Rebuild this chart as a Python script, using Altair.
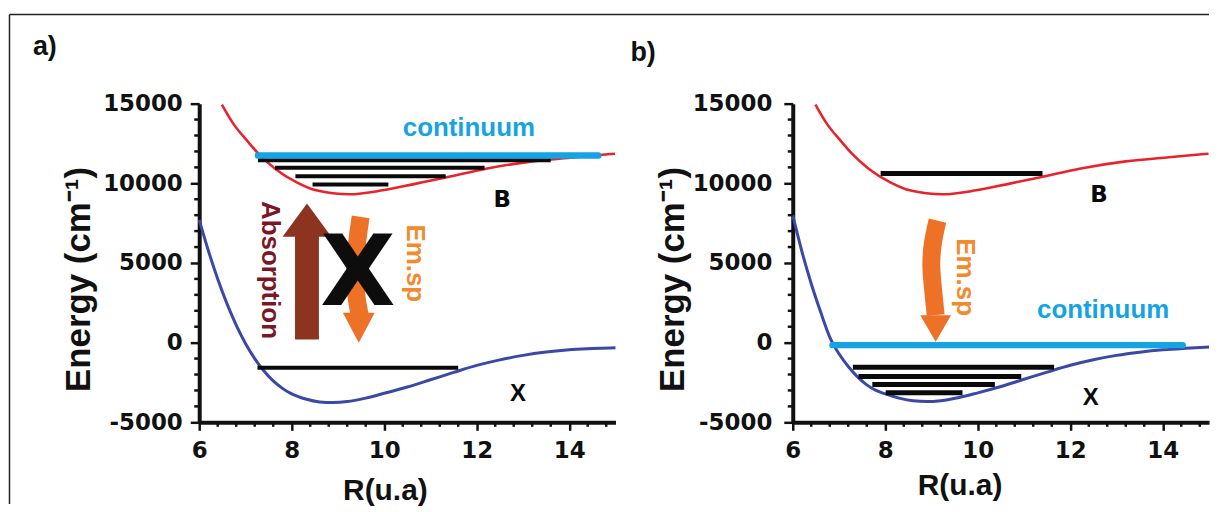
import altair as alt
import pandas as pd

# ---------------- potential curves (R in u.a., energy in cm^-1) ----------------
R_B = [6.49, 6.74, 7.03, 7.28, 7.64, 8.10, 8.53, 9.25, 9.97, 10.69, 11.33, 12.20, 13.20, 14.13, 14.99]
E_B = [14940, 13730, 12690, 11860, 10920, 10080, 9560, 9310, 9560, 9980, 10360, 10920, 11375, 11640, 11860]

R_X = [6.0, 6.2, 6.4, 6.6, 6.8, 7.0, 7.2, 7.4, 7.6, 7.8, 8.0, 8.3, 8.6, 8.9, 9.2, 9.6,
       10.0, 10.5, 11.0, 11.5, 12.0, 12.5, 13.0, 13.5, 14.0, 14.5, 15.0]
E_X_A = [7700, 5750, 4000, 2450, 1100, -50, -1000, -1780, -2400, -2870, -3220, -3540, -3720, -3760,
         -3700, -3480, -3180, -2780, -2330, -1870, -1430, -1080, -800, -590, -440, -370, -320]
E_X_B = [8000, 5700, 3700, 1950, 350, -700, -1500, -2150, -2650, -3000, -3220, -3480, -3650, -3700,
         -3640, -3440, -3150, -2750, -2300, -1850, -1420, -1070, -800, -600, -450, -350, -270]

# ---------------- vibrational levels ----------------
LEV_A_START = [7.27, 7.64, 8.08, 8.45, 7.26]
LEV_A_END = [13.60, 12.17, 11.33, 10.09, 11.60]
LEV_A_E = [11440, 10980, 10440, 9920, -1580]
LEV_B_START = [7.90, 7.30, 7.42, 7.72, 8.01]
LEV_B_END = [11.40, 11.65, 10.94, 10.37, 9.67]
LEV_B_E = [10610, -1550, -2130, -2625, -3140]

# ---------------- continuum ----------------
CONT_A_START, CONT_A_END, CONT_A_E = [7.27], [14.63], [11750]
CONT_B_START, CONT_B_END, CONT_B_E = [6.86], [14.43], [-156]

# ---------------- arrows ----------------
ABS_A_R, ABS_A_E0, ABS_A_E1 = [8.33], [190], [6700]
ABS_A_HEAD_R, ABS_A_HEAD_E = [8.33], [7685]
EMSP_A_R = [9.49, 9.40, 9.36, 9.40, 9.47]
EMSP_A_E = [7890, 6125, 4250, 2690, 1750]
EMSP_A_HEAD_R, EMSP_A_HEAD_E = [9.45], [930]
EMSP_B_R = [9.13, 9.02, 8.98, 9.04, 9.09]
EMSP_B_E = [7660, 6300, 4800, 3200, 1720]
EMSP_B_HEAD_R, EMSP_B_HEAD_E = [9.09], [885]

# ---------------- text labels ----------------
CONT_LABEL_A, CONT_LABEL_B = [11.83, 13000], [12.71, 1530]
B_LABEL_A, B_LABEL_B = [12.55, 8520], [12.62, 8800]
X_LABEL_A, X_LABEL_B = [12.89, -3670], [12.44, -3900]
ABS_LABEL_A = [7.54, 4560]
EMSP_LABEL_A, EMSP_LABEL_B = [10.67, 4980], [9.72, 4110]
BIGX_A = [9.43, 2375]

# ---------------- axis ticks ----------------
X_MAJOR = [6, 8, 10, 12, 14]
X_MINOR = [6.4, 6.8, 7.2, 7.6, 8.4, 8.8, 9.2, 9.6, 10.4, 10.8, 11.2, 11.6,
           12.4, 12.8, 13.2, 13.6, 14.4, 14.8]
Y_MAJOR = [-5000, 0, 5000, 10000, 15000]
Y_MINOR = [-4000, -3000, -2000, -1000, 1000, 2000, 3000, 4000, 6000, 7000, 8000, 9000,
           11000, 12000, 13000, 14000]

W, H = 418, 320
XS = alt.Scale(domain=[6, 15], nice=False, zero=False)
YS = alt.Scale(domain=[-5000, 15000], nice=False, zero=False)

RED = "#e8232b"
BLUE = "#3a48a6"
CYAN = "#15a3e3"
BROWN = "#8d3420"
ORANGE = "#ee7128"
ORANGE_TXT = "#f28a2e"
MAROON = "#7a1626"
INK = "#111111"

ONE = pd.DataFrame({"k": [0]})


def make_axes(title_x_x, title_x_y, lab_pad_y):
    xa = alt.Axis(
        values=X_MAJOR, title="R(u.a)", labelExpr="'' + datum.value",
        tickSize=8, labelPadding=9, labelFlush=False, labelOverlap=False, labelBound=False,
        labelFont="DejaVu Sans", labelFontSize=23, labelFontWeight="bold", labelColor=INK,
        titleFont="Liberation Sans", titleFontSize=30, titleFontWeight="bold", titleColor=INK,
        titleX=title_x_x, titleY=title_x_y, titleAlign="left", titleBaseline="alphabetic", titleAngle=0,
        tickWidth=2.5, tickColor=INK, domainWidth=4, domainColor=INK, grid=False,
    )
    ya = alt.Axis(
        values=Y_MAJOR, title="Energy (cm\u207b\u00b9)", labelExpr="'' + datum.value",
        tickSize=9, labelPadding=lab_pad_y, labelFlush=False, labelOverlap=False, labelBound=False,
        labelFont="DejaVu Sans", labelFontSize=23, labelFontWeight="bold", labelColor=INK,
        titleFont="Liberation Sans", titleFontSize=35, titleFontWeight="bold", titleColor=INK,
        titleX=-110, titleY=289, titleAlign="left", titleBaseline="alphabetic", titleAngle=270,
        tickWidth=2.5, tickColor=INK, domainWidth=4, domainColor=INK, grid=False,
    )
    return xa, ya


def xq(field, axis=None):
    if axis is None:
        return alt.X(field, type="quantitative", scale=XS)
    return alt.X(field, type="quantitative", scale=XS, axis=axis)


def yq(field, axis=None):
    if axis is None:
        return alt.Y(field, type="quantitative", scale=YS)
    return alt.Y(field, type="quantitative", scale=YS, axis=axis)


def text_layer(pos, txt, **style):
    df = pd.DataFrame({"R": [pos[0]], "E": [pos[1]], "t": [txt]})
    return alt.Chart(df).mark_text(**style).encode(x=xq("R"), y=yq("E"), text="t:N")


def minor_ticks():
    dx = pd.DataFrame({"R": X_MINOR})
    dy = pd.DataFrame({"E": Y_MINOR})
    tx = alt.Chart(dx).mark_rule(color=INK, strokeWidth=2.5).encode(
        x=xq("R"), y=alt.value(H), y2=alt.value(H + 4.5))
    ty = alt.Chart(dy).mark_rule(color=INK, strokeWidth=2.5).encode(
        y=yq("E"), x=alt.value(0), x2=alt.value(-5))
    return [tx, ty]


def panel(ex, lev_s, lev_e, lev_E, cont, lev_width, axes, letter, letter_xy, frame_top=False):
    xa, ya = axes
    dfB = pd.DataFrame({"R": R_B, "E": E_B})
    dfX = pd.DataFrame({"R": R_X, "E": ex})
    red = alt.Chart(dfB).mark_line(color=RED, strokeWidth=2.6, interpolate="monotone").encode(
        x=xq("R", xa), y=yq("E", ya))
    blue = alt.Chart(dfX).mark_line(color=BLUE, strokeWidth=3, interpolate="monotone").encode(
        x=xq("R", xa), y=yq("E", ya))
    dfL = pd.DataFrame({"s": lev_s, "e": lev_e, "E": lev_E})
    levels = alt.Chart(dfL).mark_rule(color="#0a0a0a", strokeWidth=lev_width, strokeCap="butt").encode(
        x=xq("s"), x2="e:Q", y=yq("E"))
    dfC = pd.DataFrame({"s": cont[0], "e": cont[1], "E": cont[2]})
    contl = alt.Chart(dfC).mark_rule(color=CYAN, strokeWidth=6.5, strokeCap="round").encode(
        x=xq("s"), x2="e:Q", y=yq("E"))
    lab = alt.Chart(ONE).mark_text(text=letter, align="left", baseline="alphabetic",
                                   font="Liberation Sans", fontSize=27, fontWeight="bold",
                                   color=INK).encode(x=alt.value(letter_xy[0]), y=alt.value(letter_xy[1]))
    layers = [red, blue, levels, contl, lab] + minor_ticks()
    if frame_top:
        top = alt.Chart(ONE).mark_rule(color="#222", strokeWidth=1.5).encode(
            x=alt.value(-190.5), x2=alt.value(1014), y=alt.value(-89.5))
        left = alt.Chart(ONE).mark_rule(color="#222", strokeWidth=1.5).encode(
            x=alt.value(-190.5), y=alt.value(-89.5), y2=alt.value(402))
        layers += [top, left]
    return layers


def emsp_arrow(rs, es, head_r, head_e, head_shape):
    df = pd.DataFrame({"R": rs, "E": es, "i": list(range(len(rs)))})
    shaft = alt.Chart(df).mark_line(color=ORANGE, strokeWidth=18, strokeCap="butt",
                                    interpolate="basis").encode(x=xq("R"), y=yq("E"), order="i:Q")
    dh = pd.DataFrame({"R": head_r, "E": head_e})
    head = alt.Chart(dh).mark_point(shape=head_shape[0], size=head_shape[1], filled=True,
                                    opacity=1, color=ORANGE, strokeWidth=0).encode(x=xq("R"), y=yq("E"))
    return [shaft, head]


# ---------------- panel a ----------------
axA = make_axes(144, 77.5, 8)
layersA = panel(E_X_A, LEV_A_START, LEV_A_END, LEV_A_E,
                (CONT_A_START, CONT_A_END, CONT_A_E), 4, axA, "a)", (-167, -49), frame_top=True)

dfAbs = pd.DataFrame({"R": ABS_A_R, "E0": ABS_A_E0, "E1": ABS_A_E1})
abs_shaft = alt.Chart(dfAbs).mark_rule(color=BROWN, strokeWidth=24, strokeCap="butt").encode(
    x=xq("R"), y=yq("E0"), y2="E1:Q")
dfAbsH = pd.DataFrame({"R": ABS_A_HEAD_R, "E": ABS_A_HEAD_E})
abs_head = alt.Chart(dfAbsH).mark_point(shape="M-1,0.68L1,0.68L0,-0.68Z", size=2401, filled=True,
                                        opacity=1, color=BROWN, strokeWidth=0).encode(x=xq("R"), y=yq("E"))
emA = emsp_arrow(EMSP_A_R, EMSP_A_E, EMSP_A_HEAD_R, EMSP_A_HEAD_E, ("M-1,-0.94L1,-0.94L0,0.94Z", 1024))

textsA = [
    text_layer(CONT_LABEL_A, "continuum", font="Liberation Sans", fontSize=26, fontWeight="bold",
               color=CYAN, align="center", baseline="alphabetic"),
    text_layer(B_LABEL_A, "B", font="DejaVu Sans", fontSize=23, fontWeight="bold",
               color="#0a0a0a", align="center", baseline="alphabetic"),
    text_layer(X_LABEL_A, "X", font="Liberation Sans", fontSize=24, fontWeight="bold",
               color="#0a0a0a", align="center", baseline="alphabetic"),
    text_layer(ABS_LABEL_A, "Absorption", font="Liberation Sans", fontSize=26, fontWeight="bold",
               color=MAROON, align="center", baseline="middle", angle=90),
    text_layer(EMSP_LABEL_A, "Em.sp", font="Liberation Sans", fontSize=26, fontWeight="bold",
               color=ORANGE_TXT, align="center", baseline="middle", angle=90),
]
bigX = text_layer(BIGX_A, "X", font="DejaVu Sans", fontSize=98, fontWeight="bold",
                  color="#0d0d0d", align="center", baseline="alphabetic")

panelA = alt.layer(*layersA, abs_shaft, abs_head, *emA, bigX, *textsA).properties(width=W, height=H)

# ---------------- panel b ----------------
axB = make_axes(125, 72.5, 12)
layersB = panel(E_X_B, LEV_B_START, LEV_B_END, LEV_B_E,
                (CONT_B_START, CONT_B_END, CONT_B_E), 5, axB, "b)", (-163, -42.5))
emB = emsp_arrow(EMSP_B_R, EMSP_B_E, EMSP_B_HEAD_R, EMSP_B_HEAD_E, ("M-1,-0.86L1,-0.86L0,0.86Z", 961))
textsB = [
    text_layer(CONT_LABEL_B, "continuum", font="Liberation Sans", fontSize=26, fontWeight="bold",
               color=CYAN, align="center", baseline="alphabetic"),
    text_layer(B_LABEL_B, "B", font="DejaVu Sans", fontSize=23, fontWeight="bold",
               color="#0a0a0a", align="center", baseline="alphabetic"),
    text_layer(X_LABEL_B, "X", font="Liberation Sans", fontSize=24, fontWeight="bold",
               color="#0a0a0a", align="center", baseline="alphabetic"),
    text_layer(EMSP_LABEL_B, "Em.sp", font="Liberation Sans", fontSize=26, fontWeight="bold",
               color=ORANGE_TXT, align="center", baseline="middle", angle=90),
]
panelB = alt.layer(*layersB, *emB, *textsB).properties(width=W, height=H)

chart = alt.hconcat(panelA, panelB, spacing=178, bounds="flush").properties(
    padding={"left": 0, "top": 4, "right": 0, "bottom": 0},
    background="white",
).configure_view(strokeWidth=0)

chart.save("out.html", embed_options={"renderer": "svg", "actions": False})
